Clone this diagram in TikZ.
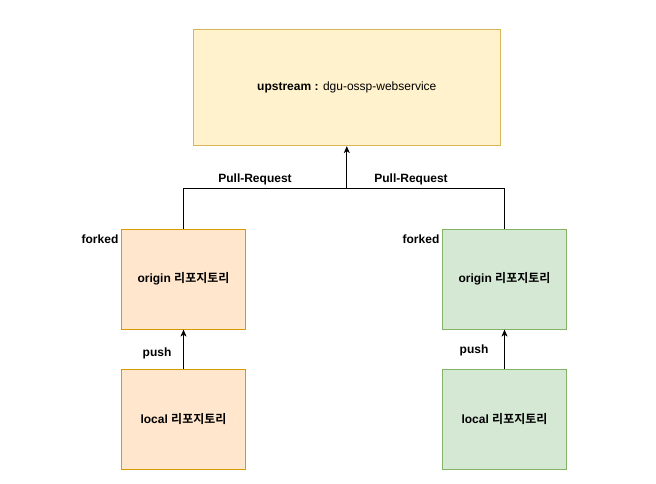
\documentclass[tikz,border=0pt]{standalone}
\usepackage{fontspec}
\setmainfont{Liberation Sans}
\newfontfamily\kr{Noto Sans CJK KR}[BoldFont={* Bold}]
\usetikzlibrary{arrows.meta}
\tikzset{
  box/.style={draw, rectangle, inner sep=0pt, line width=0.8pt, font=\fontsize{12}{14}\selectfont\bfseries},
  upbox/.style={box, fill=yfill, draw=ydraw, minimum width=307pt, minimum height=116.5pt},
  obox/.style={box, fill=ofill, draw=odraw, minimum width=124.5pt, minimum height=100pt},
  gbox/.style={box, fill=gfill, draw=gdraw, minimum width=124.5pt, minimum height=100pt},
  lbl/.style={inner sep=0pt, font=\fontsize{12}{14}\selectfont\bfseries},
  conn/.style={line width=0.8pt, draw=black},
  arr/.style={conn, -{Stealth[length=7pt,width=6pt,inset=2pt]}},
}
\definecolor{yfill}{HTML}{FFF2CC}
\definecolor{ydraw}{HTML}{D6B656}
\definecolor{ofill}{HTML}{FFE6CC}
\definecolor{odraw}{HTML}{D79B00}
\definecolor{gfill}{HTML}{D5E8D4}
\definecolor{gdraw}{HTML}{82B366}
\begin{document}
\begin{tikzpicture}[x=1pt,y=-1pt]
\useasboundingbox (0,0) rectangle (656,483);
\node[upbox] (up) at (346.8,87.5) {upstream : \mdseries dgu-ossp-webservice};
\node[obox] (lo) at (183.5,279.2) {origin {\kr 리포지토리}};
\node[obox] (ll) at (183.5,419.2) {local {\kr 리포지토리}};
\node[gbox] (ro) at (504.5,279.2) {origin {\kr 리포지토리}};
\node[gbox] (rl) at (504.5,419.2) {local {\kr 리포지토리}};
\coordinate (j) at (346.8,188.7);
\draw[conn] (lo.north) |- (j);
\draw[conn] (ro.north) |- (j);
\draw[arr] (j) -- (up.south);
\draw[arr] (ll.north) -- (lo.south);
\draw[arr] (rl.north) -- (ro.south);
\node[lbl] (pr1) at (255,179) {Pull-Request};
\node[lbl] (pr2) at (411,179) {Pull-Request};
\node[lbl] (f1) at (100,239) {forked};
\node[lbl] (f2) at (421,239) {forked};
\node[lbl] (p1) at (157,353) {push};
\node[lbl] (p2) at (474,350) {push};
\end{tikzpicture}
\end{document}
